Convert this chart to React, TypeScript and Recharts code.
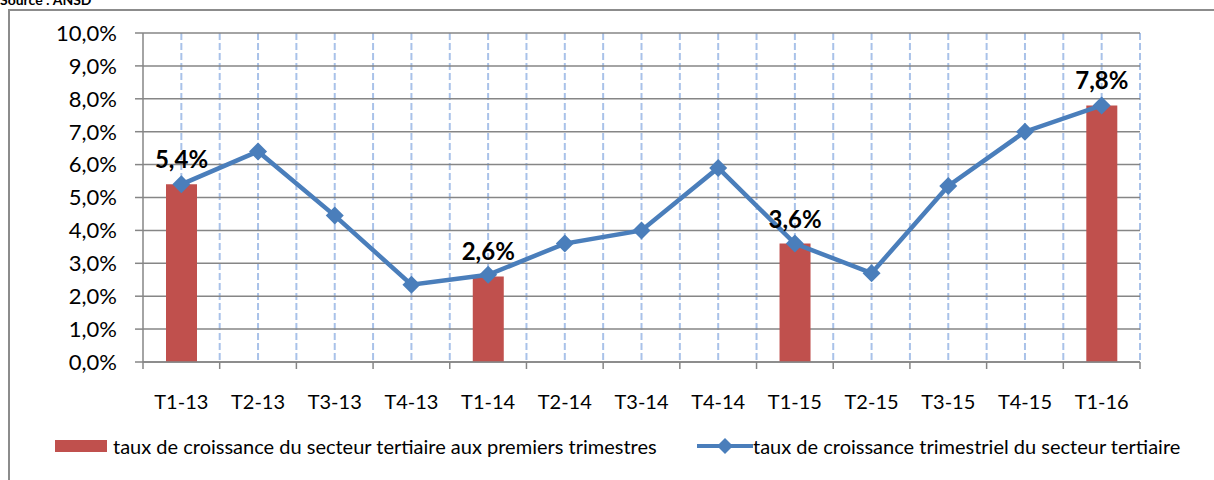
import React from 'react';
import { ComposedChart, Bar, Line, XAxis, YAxis, CartesianGrid, LabelList } from 'recharts';

const categories = ['T1-13', 'T2-13', 'T3-13', 'T4-13', 'T1-14', 'T2-14', 'T3-14', 'T4-14', 'T1-15', 'T2-15', 'T3-15', 'T4-15', 'T1-16'];
const quarterlyRate = [5.4, 6.4, 4.45, 2.35, 2.65, 3.6, 4.0, 5.9, 3.6, 2.7, 5.35, 7.0, 7.8];
const firstQuarterRate = [5.4, null, null, null, 2.6, null, null, null, 3.6, null, null, null, 7.8];
const yTicks = [0, 1, 2, 3, 4, 5, 6, 7, 8, 9, 10];

const barName = 'taux de croissance du secteur tertiaire aux premiers trimestres';
const lineName = 'taux de croissance trimestriel du secteur tertiaire';

const data = categories.map((cat, i) => ({ cat, line: quarterlyRate[i], bar: firstQuarterRate[i] }));

const W = 1214;
const H = 480;
const MARGIN = { top: 33, right: 74, left: 0, bottom: 58 };
const Y_AXIS_W = 143;
const STEP = (W - MARGIN.right - Y_AXIS_W) / categories.length;

const RED = '#C0504D';
const BLUE = '#4A7EBB';
const GRAY = '#868686';
const FONT = 'Lato, "Open Sans", sans-serif';

const fmt = (v: number) => v.toFixed(1).replace('.', ',') + '%';

const Diamond = (props: any) => {
  const { cx, cy, index } = props;
  if (cx == null || cy == null) return null;
  const r = 9;
  return (
    <polygon
      key={`d-${index}`}
      points={`${cx},${cy - r} ${cx + r},${cy} ${cx},${cy + r} ${cx - r},${cy}`}
      fill={BLUE}
    />
  );
};

const XTick = (props: any) => {
  const { x, y, payload, index } = props;
  return (
    <g>
      <line x1={x - STEP / 2} y1={y} x2={x - STEP / 2} y2={y + 7} stroke={GRAY} strokeWidth={1.5} />
      {index === categories.length - 1 && (
        <line x1={x + STEP / 2} y1={y} x2={x + STEP / 2} y2={y + 7} stroke={GRAY} strokeWidth={1.5} />
      )}
      <text x={x} y={y + 47} textAnchor="middle" fontSize={20} fill="#000" fontFamily={FONT}>
        {payload.value}
      </text>
    </g>
  );
};

// dashed verticals at every category centre and boundary
const verticalLines = ({ offset }: any) => {
  const left = offset ? offset.left : Y_AXIS_W;
  const width = offset ? offset.width : STEP * categories.length;
  const n = categories.length * 2;
  const out: number[] = [];
  for (let i = 1; i <= n; i++) out.push(left + (i * width) / n);
  return out;
};

export default function App() {
  return (
    <div style={{ position: 'fixed', inset: 0, overflow: 'hidden', background: '#fff', fontFamily: FONT }}>
      <div style={{ position: 'absolute', left: 0, top: -9, fontSize: 14, fontWeight: 700 }}>Source : ANSD</div>
      <div
        style={{
          position: 'absolute',
          left: 8,
          top: 9,
          width: 1240,
          height: 520,
          border: '2px solid #8c8c8c',
          boxSizing: 'border-box',
        }}
      />
      <div style={{ position: 'absolute', left: 0, top: 0 }}>
        <ComposedChart width={W} height={H} data={data} margin={MARGIN} barCategoryGap={0}>
          <CartesianGrid
            horizontal={false}
            stroke="#A9C2E9"
            strokeWidth={2}
            strokeDasharray="7 3"
            verticalCoordinatesGenerator={verticalLines}
          />
          <CartesianGrid vertical={false} stroke={GRAY} strokeWidth={1.5} />
          <XAxis
            dataKey="cat"
            height={60}
            tickLine={false}
            tickSize={0}
            tickMargin={0}
            axisLine={{ stroke: GRAY, strokeWidth: 1.5 }}
            tick={<XTick />}
            interval={0}
          />
          <YAxis
            width={Y_AXIS_W}
            domain={[0, 10]}
            ticks={yTicks}
            tickFormatter={fmt}
            tickSize={8}
            tickMargin={18}
            axisLine={{ stroke: GRAY, strokeWidth: 1.5 }}
            tickLine={{ stroke: GRAY, strokeWidth: 1.5 }}
            tick={{ fill: '#000', fontSize: 22, fontFamily: FONT }}
          />
          <Bar dataKey="bar" fill={RED} barSize={31} isAnimationActive={false}>
            <LabelList
              dataKey="bar"
              position="top"
              offset={16}
              formatter={(v: any) => (v == null ? '' : fmt(Number(v)))}
              fill="#000"
              style={{ fontSize: 24, fontWeight: 700, fontFamily: FONT, fill: '#000' }}
            />
          </Bar>
          <Line
            dataKey="line"
            stroke={BLUE}
            strokeWidth={4.5}
            dot={<Diamond />}
            activeDot={false}
            isAnimationActive={false}
          />
        </ComposedChart>
      </div>
      <div style={{ position: 'absolute', left: 55, top: 440, width: 52, height: 12, background: RED }} />
      <div style={{ position: 'absolute', left: 113, top: 433, fontSize: 20, lineHeight: '26px', color: '#000' }}>
        {barName}
      </div>
      <svg style={{ position: 'absolute', left: 697, top: 436 }} width={56} height={20}>
        <line x1={0} y1={10} x2={56} y2={10} stroke={BLUE} strokeWidth={4} />
        <polygon points="28,2 36,10 28,18 20,10" fill={BLUE} />
      </svg>
      <div style={{ position: 'absolute', left: 753, top: 433, fontSize: 20, lineHeight: '26px', color: '#000' }}>
        {lineName}
      </div>
    </div>
  );
}
